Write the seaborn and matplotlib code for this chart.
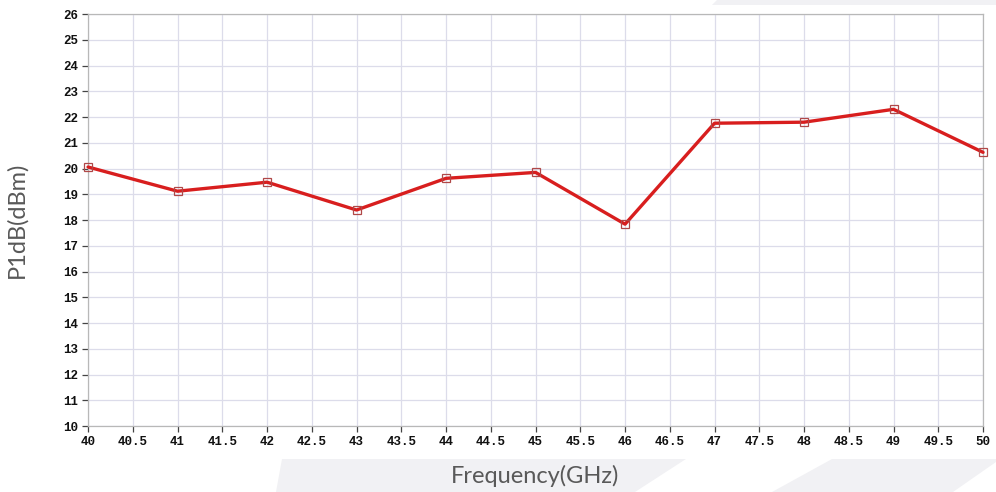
import numpy as np
import pandas as pd
import seaborn as sns
import matplotlib.pyplot as plt
from matplotlib.patches import Polygon

# P1dB vs frequency
freq = [40, 41, 42, 43, 44, 45, 46, 47, 48, 49, 50]
p1db = [20.06, 19.12, 19.47, 18.39, 19.62, 19.85, 17.84, 21.76, 21.80, 22.30, 20.63]

x_ticks = np.arange(40, 50.01, 0.5)
y_ticks = np.arange(10, 26.01, 1)

df = pd.DataFrame({"freq": freq, "p1db": p1db})

sns.set_style("white")
fig = plt.figure(figsize=(9.96, 4.92), dpi=100)

# faint diagonal background bands (pixel coords -> figure fraction)
W, H = 996.0, 492.0
bg = "#f1f1f4"
bands = [
    [(717, 0), (996, 0), (996, 5), (712, 5)],
    [(276, 492), (635, 492), (686, 459), (282, 459)],
    [(772, 492), (953, 492), (996, 462), (996, 459), (832, 459)],
]
for pts in bands:
    fpts = [(x / W, 1 - y / H) for x, y in pts]
    fig.patches.append(Polygon(fpts, closed=True, transform=fig.transFigure,
                               facecolor=bg, edgecolor="none", zorder=-1))

ax = fig.add_axes([0.0884, 0.134, 0.8986, 0.8375])
ax.set_zorder(2)
ax.set_facecolor("none")

sns.lineplot(data=df, x="freq", y="p1db", ax=ax, color="#d81e1e", linewidth=2.4,
             marker="s", markersize=6, markerfacecolor="none",
             markeredgecolor="#b04848", markeredgewidth=0.9, zorder=3, clip_on=False)

ax.set_xlim(40, 50)
ax.set_ylim(10, 26)
ax.set_xticks(x_ticks)
ax.set_yticks(y_ticks)
ax.set_xticklabels([f"{v:g}" for v in x_ticks])
ax.set_yticklabels([f"{int(v)}" for v in y_ticks])
ax.grid(True, color="#dcdcea", linewidth=0.9)
ax.set_axisbelow(True)

for s in ax.spines.values():
    s.set_color("#b8b8b8")
    s.set_linewidth(0.9)

ax.tick_params(axis="both", direction="out", length=4, width=0.9, color="#444444",
               labelsize=9, pad=3, bottom=True, left=True)
for lbl in ax.get_xticklabels() + ax.get_yticklabels():
    lbl.set_fontfamily("Liberation Mono")
    lbl.set_fontweight("bold")
    lbl.set_color("#111111")

ax.set_xlabel("Frequency(GHz)", fontsize=17, color="#595959", labelpad=12,
              fontfamily="Lato")
ax.set_ylabel("P1dB(dBm)", fontsize=17, color="#595959", labelpad=26,
              fontfamily="Lato")

fig.savefig("out.png", dpi=100)
